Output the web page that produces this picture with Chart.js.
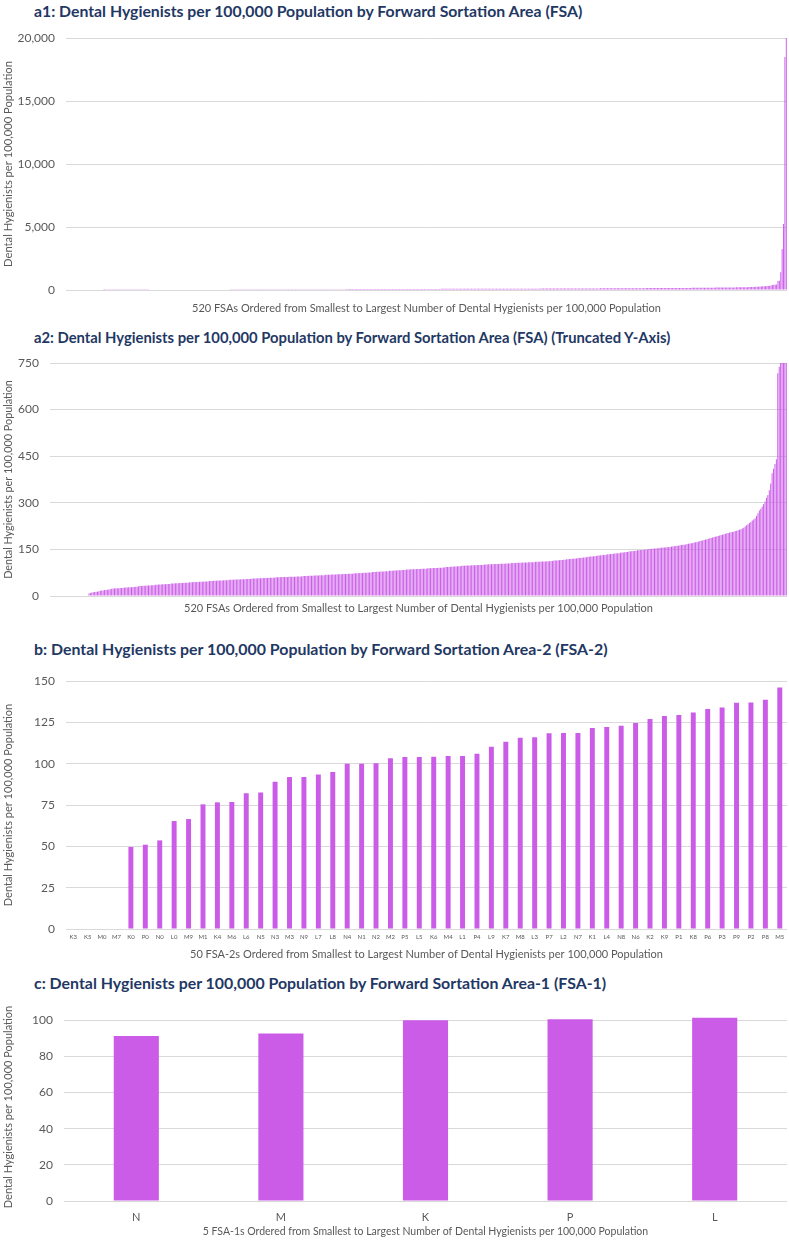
<!DOCTYPE html>
<html><head><meta charset="utf-8">
<script src="https://cdn.jsdelivr.net/npm/chart.js@4.4.1/dist/chart.umd.min.js"></script>
<style>
body{margin:0;width:789px;height:1240px;background:#fff;position:relative;overflow:hidden;font-family:Lato,sans-serif}
.t{position:absolute;left:34px;font-family:Lato,sans-serif;font-weight:bold;color:#1f3864;white-space:nowrap;line-height:16px}
canvas{position:absolute;left:0}
</style></head><body>
<div class="t" style="top:3px;font-size:15.8px">a1: Dental Hygienists per 100,000 Population by Forward Sortation Area (FSA)</div>
<canvas id="cA1" width="789" height="288" style="top:30px"></canvas>
<div class="t" style="top:329px;font-size:14.8px">a2: Dental Hygienists per 100,000 Population by Forward Sortation Area (FSA) (Truncated Y-Axis)</div>
<canvas id="cA2" width="789" height="270" style="top:352px"></canvas>
<div class="t" style="top:641px;font-size:15.9px">b: Dental Hygienists per 100,000 Population by Forward Sortation Area-2 (FSA-2)</div>
<canvas id="cB" width="789" height="295" style="top:670px"></canvas>
<div class="t" style="top:975px;font-size:15.9px">c: Dental Hygienists per 100,000 Population by Forward Sortation Area-1 (FSA-1)</div>
<canvas id="cC" width="789" height="235" style="top:1005px"></canvas>
<script>
// ---- DATA ----
// 520 FSAs, sorted ascending (values per 100,000 population)
const fsaValuesLow = [
  0,0,0,0,0,0,0,0,0,0,
  0,0,0,0,0,0,0,0,0,0,
  0,0,0,0,0,0,0,8,10,11,
  12,13,14,14,15,17,18,18,19,19,
  20,21,22,23,24,24,25,25,25,26,
  26,26,27,27,27,28,28,28,29,29,
  30,30,31,32,32,33,33,33,34,34,
  34,35,35,35,36,36,37,37,37,38,
  38,38,39,39,39,40,40,40,41,41,
  41,42,42,42,43,43,43,43,44,44,
  44,45,45,45,45,46,46,46,47,47,
  47,47,48,48,48,49,49,49,50,50
];
const fsaValuesMid = [
  50,50,51,51,51,51,52,52,52,52,
  53,53,53,53,54,54,54,54,55,55,
  55,55,56,56,56,56,57,57,57,57,
  58,58,58,58,59,59,59,59,59,60,
  60,60,60,61,61,61,61,61,62,62,
  62,62,62,62,63,63,63,63,64,64,
  64,64,65,65,65,65,66,66,66,66,
  67,67,67,67,68,68,68,68,69,69,
  69,69,70,70,70,70,71,71,71,71,
  72,72,72,72,73,73,73,73,74,74,
  74,75,75,75,76,76,76,77,77,77,
  78,78,78,79,79,79,80,80,80,81,
  81,81,82,82,82,83,83,83,84,84,
  84,85,85,85,86,86,86,86,87,87,
  87,87,88,88,88,88,89,89,89,89,
  90,90,90,90,91,91,91,92,92,93,
  93,93,94,94,95,95,95,96,96,96,
  97,97,97,98,98,98,98,99,99,99,
  99,100,100,100,100,100,101,101,101,102,
  102,102,102,103,103,103,103,104,104,104,
  104,105,105,105,105,106,106,106,106,107,
  107,107,107,108,108,108,108,109,109,109,
  109,109,110,110,110,110,111,111,111,111
];
const fsaValuesHigh = [
  112,112,112,113,113,114,114,114,115,115,
  116,116,117,117,118,118,119,119,120,120,
  121,121,122,122,123,123,124,124,125,126,
  126,127,127,128,128,129,130,130,131,131,
  132,132,133,134,134,135,135,136,137,137,
  138,138,139,140,140,141,142,142,143,144,
  144,145,145,146,147,147,148,148,149,149,
  150,150,151,151,152,152,153,153,154,154,
  155,155,156,156,157,157,158,158,159,160,
  160,161,162,162,163,164,165,165,166,167,
  168,169,170,171,172,173,174,175,177,178,
  179,180,182,183,184,186,187,188,190,191,
  192,193,195,196,197,199,200,202,203,204,
  205,206,207,209,210,212,213,215,217,220,
  224,228,231,235,238,243,246,250,258,266,
  275,281,288,296,304,316,325,340,362,395,
  410,425,440,717,738,1400,3250,5240,18500,20000
];
const fsa2Labels = ['K3','K5','M0','M7','K0','P0','N0','L0','M9','M1','K4','M6','L6','N5','N3','M3','N9','L7','L8','N4',
  'N1','N2','M2','P5','L5','K6','M4','L1','P4','L9','K7','M8','L3','P7','L2','N7','K1','L4','N8','N6',
  'K2','K9','P1','K8','P6','P3','P9','P2','P8','M5'];
const fsa2Values = [0,0,0,0,49.6,51,53.6,65.3,66.5,75.4,76.6,76.8,82.1,82.5,89,92,92,93.4,95,100,
  100,100.2,103.3,104,104,104.2,104.6,104.6,106,110.2,113.2,115.6,116,118.4,118.5,118.6,121.6,122.2,123,124.6,
  127,128.8,129.4,131,133,134,136.8,137,138.6,146];
const fsa1Labels = ['N','M','K','P','L'];
const fsa1Values = [91.3,92.6,100,100.5,101.4];
const ticksA1 = [0,5000,10000,15000,20000];
const ticksA2 = [0,150,300,450,600,750];
const ticksB = [0,25,50,75,100,125,150];
const ticksC = [0,20,40,60,80,100];

const fsaValues = fsaValuesLow.concat(fsaValuesMid, fsaValuesHigh);
const fsaLabels = fsaValues.map((_, i) => 'FSA ' + (i + 1));

// ---- STYLE ----
const BAR = '#cb5ce8';
const GRID = '#d9d9d9';
const TXT = '#595959';
const YTITLE = 'Dental Hygienists per 100,000 Population';
Chart.defaults.font.family = 'Lato, sans-serif';
Chart.defaults.color = TXT;
Chart.defaults.animation = false;

function makeChart(id, labels, values, yTicks, yMax, opts) {
  return new Chart(document.getElementById(id), {
    type: 'bar',
    data: { labels: labels, datasets: [{ data: values, backgroundColor: BAR, borderWidth: 0,
      barPercentage: opts.barPct, categoryPercentage: opts.catPct }] },
    options: {
      responsive: false,
      layout: { padding: { top: opts.padTop, right: opts.padRight, left: 0, bottom: 0 } },
      plugins: { legend: { display: false }, tooltip: { enabled: false } },
      scales: {
        x: {
          grid: { display: false, drawTicks: false },
          border: { display: false },
          ticks: { display: opts.xTicks, autoSkip: false, maxRotation: 0, minRotation: 0,
            font: { size: opts.xTickSize }, padding: opts.xTickPad, color: TXT },
          title: { display: true, text: opts.xTitle, font: { size: opts.xTitleSize }, color: TXT,
            padding: { top: 0, bottom: opts.xTitlePadB } },
          afterFit: s => { s.height = opts.xHeight; s.paddingLeft = 0; s.paddingRight = 0; }
        },
        y: {
          min: 0, max: yMax,
          afterBuildTicks: s => { s.ticks = yTicks.map(v => ({ value: v })); },
          grid: { color: GRID, lineWidth: 1, drawTicks: false },
          border: { display: false },
          ticks: { font: { size: opts.yTickSize }, padding: 11, color: TXT,
            callback: v => Number(v).toLocaleString('en-US') },
          title: { display: true, text: YTITLE, font: { size: opts.yTitleSize }, color: TXT,
            padding: { top: 2, bottom: 0 } },
          afterFit: s => { s.width = opts.yWidth; s.paddingTop = 0; s.paddingBottom = 0; }
        }
      }
    }
  });
}

makeChart('cA1', fsaLabels, fsaValues, ticksA1, 20000, {
  barPct: 0.7, catPct: 1, padTop: 8, padRight: 2, xTicks: false, xTickSize: 6, xTickPad: 0,
  xTitle: '520 FSAs Ordered from Smallest to Largest Number of Dental Hygienists per 100,000 Population',
  xTitleSize: 11, xTitlePadB: 3, xHeight: 28, yTickSize: 12, yTitleSize: 11.2, yWidth: 66 });

makeChart('cA2', fsaLabels, fsaValues, ticksA2, 750, {
  barPct: 0.7, catPct: 1, padTop: 11, padRight: 2, xTicks: false, xTickSize: 6, xTickPad: 0,
  xTitle: '520 FSAs Ordered from Smallest to Largest Number of Dental Hygienists per 100,000 Population',
  xTitleSize: 11, xTitlePadB: 7, xHeight: 26, yTickSize: 12, yTitleSize: 10.8, yWidth: 50 });

makeChart('cB', fsa2Labels, fsa2Values, ticksB, 150, {
  barPct: 0.43, catPct: 0.8, padTop: 11, padRight: 2, xTicks: true, xTickSize: 6, xTickPad: 4,
  xTitle: '50 FSA-2s Ordered from Smallest to Largest Number of Dental Hygienists per 100,000 Population',
  xTitleSize: 11, xTitlePadB: 4, xHeight: 36, yTickSize: 12, yTitleSize: 11, yWidth: 66 });

makeChart('cC', fsa1Labels, fsa1Values, ticksC, 104, {
  barPct: 0.39, catPct: 0.8, padTop: 8, padRight: 2, xTicks: true, xTickSize: 11, xTickPad: 10,
  xTitle: '5 FSA-1s Ordered from Smallest to Largest Number of Dental Hygienists per 100,000 Population',
  xTitleSize: 10.5, xTitlePadB: 2, xHeight: 39, yTickSize: 12, yTitleSize: 11, yWidth: 64 });
</script>
</body></html>
